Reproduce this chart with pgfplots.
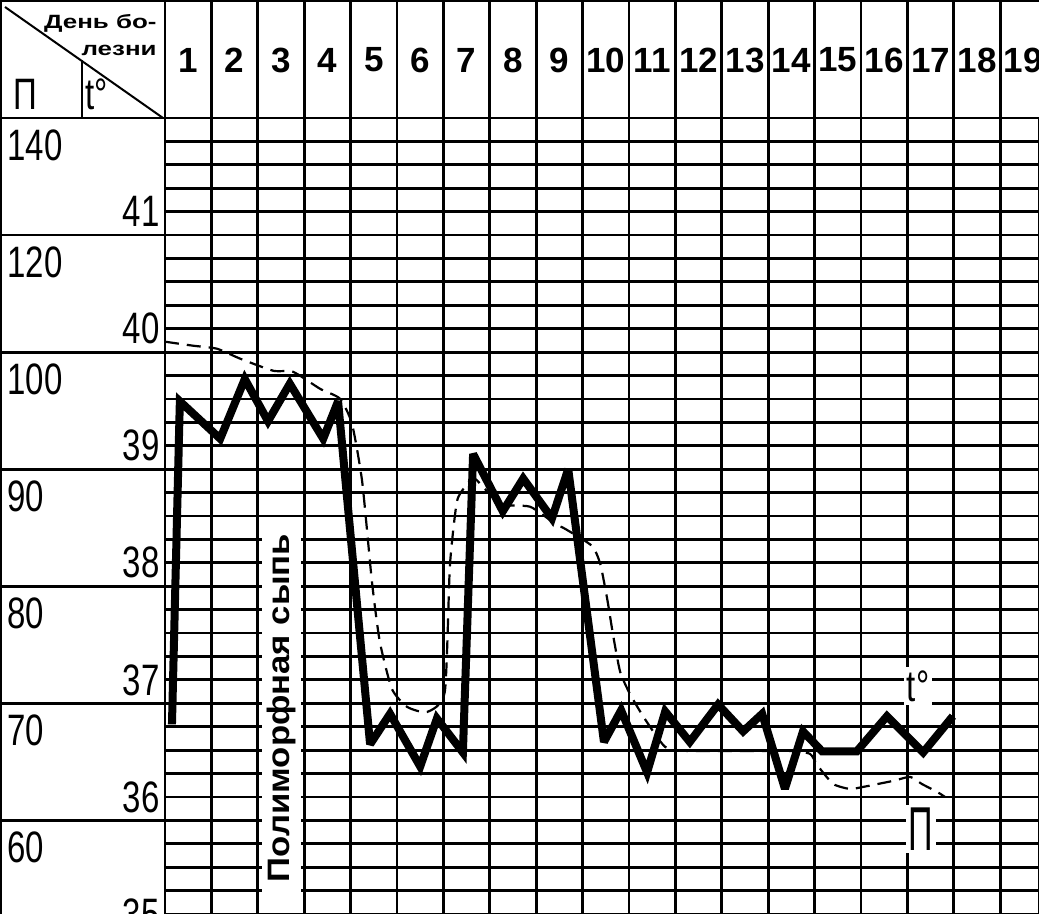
\documentclass[border=0pt]{standalone}
\usepackage{fontspec}
\setmainfont{Liberation Sans}
\newfontfamily\narrowfont[FakeStretch=0.75]{Liberation Sans}
\newfontfamily\widefont[FakeStretch=1.35]{Liberation Sans}
\newfontfamily\rashfont[FakeStretch=1.12]{Liberation Sans}
\usepackage{graphicx}
\usepackage{pgfplots}
\pgfplotsset{compat=1.18}
\begin{document}
\begin{tikzpicture}
\begin{axis}[
  at={(0,0)}, anchor=south west,
  scale only axis, width=437pt, height=398pt,
  xmin=0, xmax=18.8362, ymin=35, ymax=41.8,
  xtick={0,1,2,3,4,5,6,7,8,9,10,11,12,13,14,15,16,17,18},
  ytick={35,35.2,35.4,35.6,35.8,36,36.2,36.4,36.6,36.8,37,37.2,37.4,37.6,37.8,38,38.2,38.4,38.6,38.8,39,39.2,39.4,39.6,39.8,40,40.2,40.4,40.6,40.8,41,41.2,41.4,41.6,41.8},
  xticklabels={}, yticklabels={},
  major tick length=0pt,
  grid=major, major grid style={line width=1.4pt, black},
  axis line style={line width=1.4pt, black},
]
% pulse (dashed)
\addplot[black, line width=1.1pt, dash pattern=on 7pt off 4pt, smooth, tension=0.35] coordinates {
(0.00,39.889) (0.60,39.855) (1.12,39.829) (1.62,39.744) (2.33,39.641) (2.76,39.632)
(3.34,39.487) (3.77,39.402) (4.03,39.188) (4.25,38.692) (4.46,37.838) (4.63,37.325)
(4.89,36.923) (5.22,36.769) (5.65,36.726) (6.03,36.897) (6.14,37.974) (6.29,38.521)
(6.47,38.650) (6.68,38.718) (7.22,38.504) (7.87,38.479) (8.41,38.333) (8.62,38.291)
(9.20,38.145) (9.38,37.991) (9.53,37.692) (9.66,37.376) (9.81,37.068) (10.02,36.880)
(10.34,36.667) (10.78,36.427) (11.25,36.393) (12.82,36.393) (13.47,36.393) (13.90,36.368)
(14.07,36.265) (14.40,36.111) (14.76,36.068) (15.04,36.085) (15.69,36.137) (16.06,36.171)
(16.31,36.111) (16.64,36.043) (16.81,36.000)
};
% temperature (thick)
\addplot[black, line width=4pt, line join=miter, miter limit=3] coordinates {
(0.15,36.62) (0.32,39.38) (1.19,39.06) (1.72,39.57) (2.22,39.21) (2.69,39.53)
(3.41,39.06) (3.73,39.38) (4.42,36.45) (4.85,36.71) (5.50,36.26) (5.86,36.67)
(6.42,36.38) (6.64,38.93) (7.28,38.44) (7.72,38.72) (8.34,38.38) (8.69,38.80)
(9.46,36.47) (9.83,36.74) (10.39,36.21) (10.78,36.73) (11.31,36.47) (11.92,36.79)
(12.46,36.56) (12.87,36.71) (13.36,36.07) (13.75,36.56) (14.16,36.39) (14.91,36.39)
(15.56,36.69) (16.34,36.38) (16.98,36.69)
};
\end{axis}
% ---------- header ----------
\foreach \d in {0,...,18} \draw[line width=1.4pt] ({(23.2*\d)*1pt},398pt) -- ({(23.2*\d)*1pt},457pt);
\foreach \d in {1,...,19} \node[font=\fontsize{17.5}{17.5}\selectfont\bfseries, inner sep=0pt] at ({(23.2*\d-11.6)*1pt},427pt) {\d};
\draw[line width=1.4pt] (-82.5pt,398pt) -- (0pt,398pt);
\draw[line width=1.4pt] (-82.5pt,456.6pt) -- (437pt,456.6pt);
\draw[line width=1.4pt] (-82pt,0pt) -- (-82pt,457pt);
\draw[line width=1pt] (-80pt,453.5pt) -- (-1pt,398pt);
\draw[line width=1pt] (-41.5pt,427pt) -- (-41.5pt,398pt);
\node[anchor=base east, inner sep=0pt, font=\widefont\fontsize{9.6}{9.6}\selectfont\bfseries] at (-4pt,442.5pt) {День бо-};
\node[anchor=base east, inner sep=0pt, font=\widefont\fontsize{9.6}{9.6}\selectfont\bfseries] at (-4pt,429pt) {лезни};
\node[anchor=base west, inner sep=0pt, font=\narrowfont\fontsize{22}{22}\selectfont] at (-76pt,402pt) {П};
\node[anchor=base west, inner sep=0pt, font=\narrowfont\fontsize{22}{22}\selectfont] at (-40pt,402pt) {t°};
% ---------- left column ----------
\foreach \y in {46.82,105.35,163.88,222.41,280.94,339.47} \draw[line width=1.4pt] (-82.5pt,{\y*1pt}) -- (0pt,{\y*1pt});
\foreach \y/\t in {0/35,58.53/36,117.06/37,175.59/38,234.12/39,292.65/40,351.18/41}
  \node[anchor=east, inner sep=0pt, font=\narrowfont\fontsize{22}{22}\selectfont] at (-2.5pt,{\y*1pt}) {\t};
\foreach \y/\t in {398/140,339.47/120,280.94/100,222.41/90,163.88/80,105.35/70,46.82/60}
  \node[anchor=north west, inner sep=0pt, font=\narrowfont\fontsize{22}{22}\selectfont] at (-79pt,{(\y-5.5)*1pt}) {\t};
% ---------- annotations ----------
\node[rotate=90, fill=white, inner sep=0pt, minimum width=188pt, minimum height=19.5pt, font=\rashfont\fontsize{15.5}{15.5}\selectfont\bfseries] at (58.3pt,103pt) {Полиморфная сыпь};
\node[fill=white, inner sep=1.5pt, font=\narrowfont\fontsize{22}{22}\selectfont] at (376.5pt,114pt) {t°};
\node[fill=white, inner sep=1.5pt, font=\fontsize{31}{31}\selectfont] at (378pt,42.5pt) {\scalebox{0.55}[1]{П}};
\pgfresetboundingbox
\path[use as bounding box] (-82.5pt,0pt) rectangle (437pt,457pt);
\end{tikzpicture}
\end{document}
